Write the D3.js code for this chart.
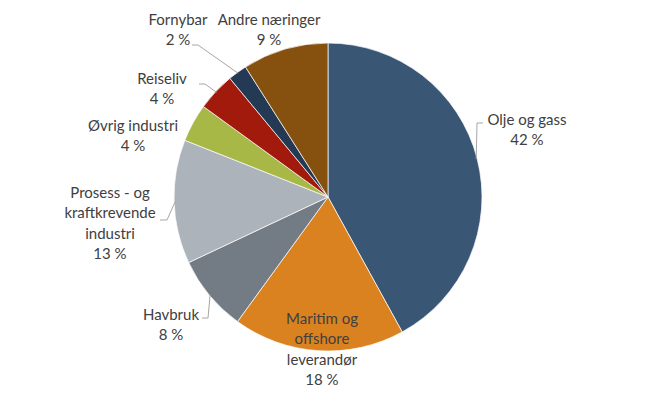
<!DOCTYPE html>
<html>
<head>
<meta charset="utf-8">
<script src="https://cdn.jsdelivr.net/npm/d3@7"></script>
<style>
  body { margin: 0; background: #fff; }
  text { font-family: Lato, "Open Sans", sans-serif; font-size: 15px; fill: #404040; }
</style>
</head>
<body>
<svg id="chart" width="654" height="399"></svg>
<script>
// share of value creation, percent, clockwise from 12 o'clock
var sectors = ["Olje og gass", "Maritim og offshore leverandør", "Havbruk",
               "Prosess - og kraftkrevende industri", "Øvrig industri", "Reiseliv",
               "Fornybar", "Andre næringer"];
var shares = [42, 18, 8, 13, 4, 4, 2, 9];
var labelLines = [["Olje og gass"], ["Maritim og", "offshore", "leverandør"], ["Havbruk"],
                  ["Prosess - og", "kraftkrevende", "industri"], ["Øvrig industri"], ["Reiseliv"],
                  ["Fornybar"], ["Andre næringer"]];
var colors = ["#3a5675", "#da8220", "#737c85", "#adb3ba", "#a8b846", "#a11a0c", "#243a54", "#86500e"];

// label layout: centre x, first baseline, optional leader (elbow + label end)
var layout = [
    { x: 527, y: 125, leader: [[477, 123], [483, 123]] },
    { x: 322, y: 324 },
    { x: 171, y: 320, leader: [[208, 318], [202, 318]] },
    { x: 110, y: 198, leader: [[167, 220], [160, 220]] },
    { x: 133, y: 131 },
    { x: 162, y: 84, leader: [[205, 84], [199, 84]] },
    { x: 178, y: 25, leader: [[198, 45], [192, 45]] },
    { x: 269, y: 25 }
];

var cx = 328, cy = 197, r = 154;
var svg = d3.select("#chart");
var g = svg.append("g").attr("transform", "translate(" + cx + "," + cy + ")");

var pie = d3.pie().sort(null).value(function(d) { return d; });
var arc = d3.arc().innerRadius(0).outerRadius(r);
var arcs = pie(shares);

g.selectAll("path")
    .data(arcs)
    .enter().append("path")
    .attr("d", arc)
    .attr("fill", function(d, i) { return colors[i]; })
    .attr("stroke", "#fff")
    .attr("stroke-width", 0.7);

// leader lines
arcs.forEach(function(d, i) {
    var L = layout[i];
    if (!L.leader) return;
    var a = (d.startAngle + d.endAngle) / 2;
    var p = [cx + (r - 1) * Math.sin(a), cy - (r - 1) * Math.cos(a)];
    var pts = [p].concat(L.leader);
    svg.append("polyline")
        .attr("points", pts.map(function(q) { return q.join(","); }).join(" "))
        .attr("fill", "none")
        .attr("stroke", "#a6a6a6")
        .attr("stroke-width", 1);
});

// labels
arcs.forEach(function(d, i) {
    var L = layout[i];
    var lines = labelLines[i].concat([shares[i] + " %"]);
    var t = svg.append("text")
        .attr("text-anchor", "middle")
        .attr("x", L.x)
        .attr("y", L.y);
    lines.forEach(function(s, k) {
        t.append("tspan")
            .attr("x", L.x)
            .attr("dy", k === 0 ? 0 : 20.3)
            .text(s);
    });
});
</script>
</body>
</html>
